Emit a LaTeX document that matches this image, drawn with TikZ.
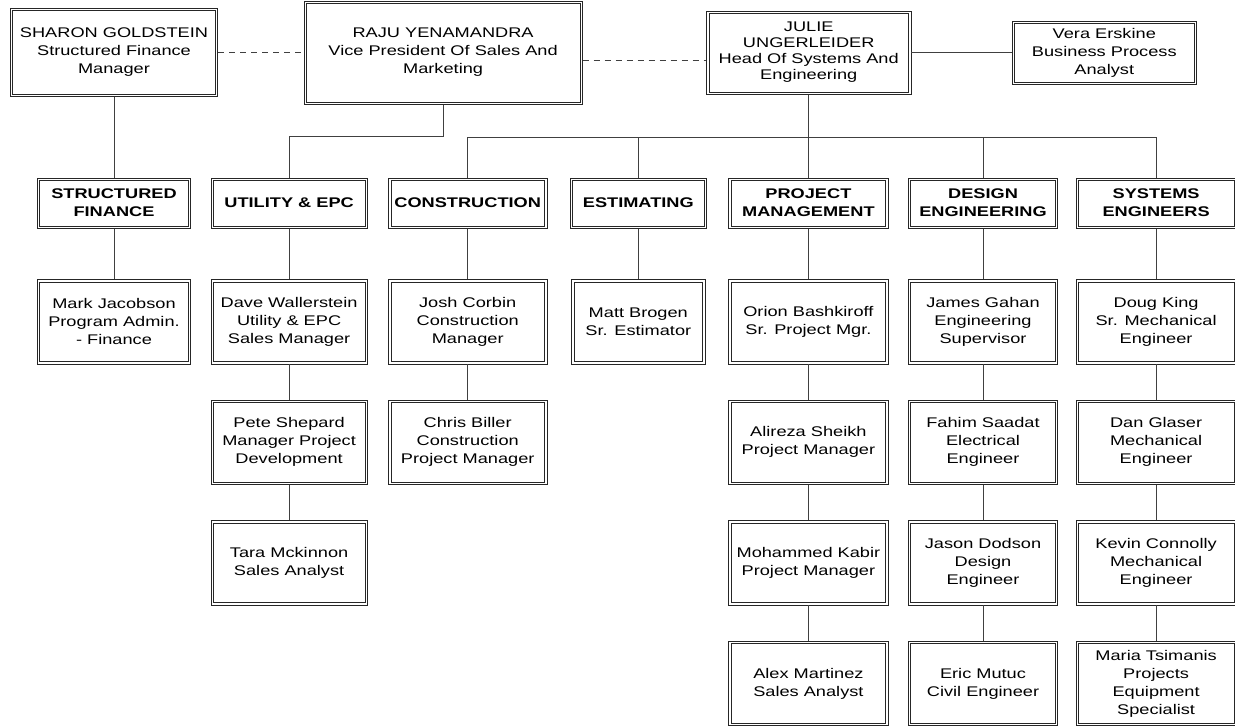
\documentclass[tikz,border=0pt]{standalone}
\usepackage{fontspec}
\setmainfont{Liberation Sans}[FakeStretch=1.3]
\usetikzlibrary{positioning}

\begin{document}
\begin{tikzpicture}[
    box/.style={rectangle, draw=black!85, line width=0.6pt, align=center, inner sep=1pt, font=\fontsize{14}{18}\selectfont,
        path picture={\draw[black!85, line width=0.6pt] ([shift={(2.4pt,2.4pt)}]path picture bounding box.south west) rectangle ([shift={(-2.4pt,-2.4pt)}]path picture bounding box.north east);}},
    head/.style={box, minimum height=50.4pt, font=\fontsize{14}{18}\selectfont\bfseries},
    person/.style={box, minimum height=84.4pt},
    link/.style={draw=black!75, line width=0.7pt},
]
    \useasboundingbox (0,0) rectangle (1235pt,-726pt);

    % Top management
    \node[box, minimum width=207.4pt, minimum height=88.4pt] (sharon) at (114pt,-52.5pt) {SHARON GOLDSTEIN\\Structured Finance\\Manager};
    \node[box, minimum width=278.4pt, minimum height=103.4pt, right=85.6pt of sharon] (raju) {RAJU YENAMANDRA\\Vice President Of Sales And\\Marketing};
    \node[box, minimum width=204.4pt, minimum height=83.4pt, right=123.6pt of raju, font=\fontsize{14}{16}\selectfont] (julie) {JULIE\\UNGERLEIDER\\Head Of Systems And\\Engineering};
    \node[box, minimum width=184.4pt, minimum height=63.4pt, right=100.6pt of julie] (vera) {Vera Erskine\\Business Process\\Analyst};

    % Departments
    \node[head, minimum width=153.4pt, below=80.6pt of sharon] (sf) {STRUCTURED\\FINANCE};
    \node[head, minimum width=156.4pt, right=19.6pt of sf] (util) {UTILITY \& EPC};
    \node[head, minimum width=158.4pt, right=20.6pt of util] (constr) {CONSTRUCTION};
    \node[head, minimum width=136.4pt, right=22.6pt of constr] (estim) {ESTIMATING};
    \node[head, minimum width=159.4pt, right=21.6pt of estim] (pm) {PROJECT\\MANAGEMENT};
    \node[head, minimum width=149.4pt, right=19.6pt of pm] (design) {DESIGN\\ENGINEERING};
    \node[head, minimum width=160.4pt, right=17.6pt of design] (syseng) {SYSTEMS\\ENGINEERS};

    % Structured finance
    \node[person, minimum width=153.4pt, below=50.6pt of sf] (mark) {Mark Jacobson\\Program Admin.\\- Finance};

    % Utility & EPC
    \node[person, minimum width=156.4pt, below=50.6pt of util] (dave) {Dave Wallerstein\\Utility \& EPC\\Sales Manager};
    \node[person, minimum width=156.4pt, below=35.6pt of dave] (pete) {Pete Shepard\\Manager Project\\Development};
    \node[person, minimum width=156.4pt, below=35.6pt of pete] (tara) {Tara Mckinnon\\Sales Analyst};

    % Construction
    \node[person, minimum width=158.4pt, below=50.6pt of constr] (josh) {Josh Corbin\\Construction\\Manager};
    \node[person, minimum width=158.4pt, below=35.6pt of josh] (chris) {Chris Biller\\Construction\\Project Manager};

    % Estimating
    \node[person, minimum width=133.4pt, below=50.6pt of estim] (matt) {Matt Brogen\\Sr. Estimator};

    % Project management
    \node[person, minimum width=159.4pt, below=50.6pt of pm] (orion) {Orion Bashkiroff\\Sr. Project Mgr.};
    \node[person, minimum width=159.4pt, below=35.6pt of orion] (alireza) {Alireza Sheikh\\Project Manager};
    \node[person, minimum width=159.4pt, below=35.6pt of alireza] (mohammed) {Mohammed Kabir\\Project Manager};
    \node[person, minimum width=159.4pt, below=35.6pt of mohammed] (alex) {Alex Martinez\\Sales Analyst};

    % Design engineering
    \node[person, minimum width=149.4pt, below=50.6pt of design] (james) {James Gahan\\Engineering\\Supervisor};
    \node[person, minimum width=149.4pt, below=35.6pt of james] (fahim) {Fahim Saadat\\Electrical\\Engineer};
    \node[person, minimum width=149.4pt, below=35.6pt of fahim] (jason) {Jason Dodson\\Design\\Engineer};
    \node[person, minimum width=149.4pt, below=35.6pt of jason] (eric) {Eric Mutuc\\Civil Engineer};

    % Systems engineers
    \node[person, minimum width=160.4pt, below=50.6pt of syseng] (doug) {Doug King\\Sr. Mechanical\\Engineer};
    \node[person, minimum width=160.4pt, below=35.6pt of doug] (dan) {Dan Glaser\\Mechanical\\Engineer};
    \node[person, minimum width=160.4pt, below=35.6pt of dan] (kevin) {Kevin Connolly\\Mechanical\\Engineer};
    \node[person, minimum width=160.4pt, below=35.6pt of kevin] (maria) {Maria Tsimanis\\Projects\\Equipment\\Specialist};

    % Top row links
    \draw[link, dash pattern=on 6pt off 5pt] (sharon) -- (raju);
    \draw[link, dash pattern=on 6pt off 5pt] ([yshift=-8pt]raju.east) -- ([yshift=-8pt]julie.west);
    \draw[link] (julie) -- (vera);

    % Reporting lines
    \draw[link] (sharon) -- (sf);
    \draw[link] (raju.south) -- ++(0,-32pt) -| (util.north);
    \coordinate (bus) at ([yshift=-43pt]julie.south);
    \draw[link] (julie.south) -- (bus);
    \draw[link] (bus) -| (constr.north);
    \draw[link] (bus) -| (estim.north);
    \draw[link] (bus) -| (pm.north);
    \draw[link] (bus) -| (design.north);
    \draw[link] (bus) -| (syseng.north);

    % Department chains
    \draw[link] (sf) -- (mark);
    \draw[link] (util) -- (dave);
    \draw[link] (dave) -- (pete);
    \draw[link] (pete) -- (tara);
    \draw[link] (constr) -- (josh);
    \draw[link] (josh) -- (chris);
    \draw[link] (estim) -- (matt);
    \draw[link] (pm) -- (orion);
    \draw[link] (orion) -- (alireza);
    \draw[link] (alireza) -- (mohammed);
    \draw[link] (mohammed) -- (alex);
    \draw[link] (design) -- (james);
    \draw[link] (james) -- (fahim);
    \draw[link] (fahim) -- (jason);
    \draw[link] (jason) -- (eric);
    \draw[link] (syseng) -- (doug);
    \draw[link] (doug) -- (dan);
    \draw[link] (dan) -- (kevin);
    \draw[link] (kevin) -- (maria);

\end{tikzpicture}
\end{document}
